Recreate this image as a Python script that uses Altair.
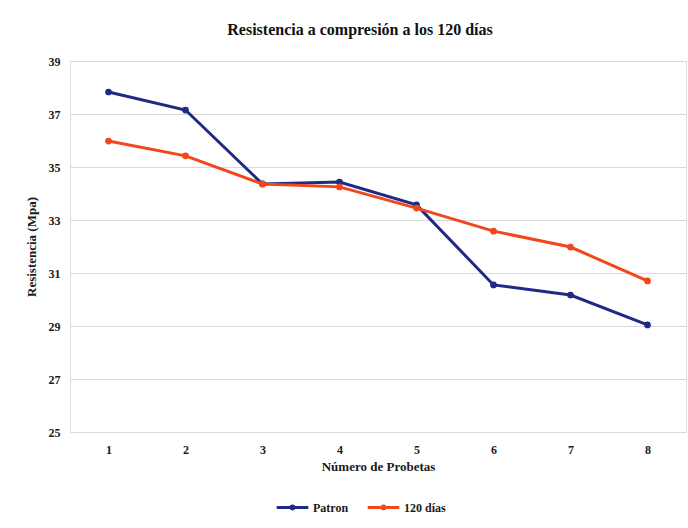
import altair as alt
import pandas as pd

# Compressive strength per specimen (MPa)
probetas = [1, 2, 3, 4, 5, 6, 7, 8]
patron = [37.83, 37.15, 34.36, 34.43, 33.57, 30.55, 30.17, 29.04]
dias_120 = [35.98, 35.42, 34.36, 34.25, 33.45, 32.58, 31.98, 30.70]
series = ["Patron", "120 días"]
colores = ["#1e2a86", "#f2471b"]
y_ticks = [25, 27, 29, 31, 33, 35, 37, 39]

rows = []
for nombre, valores in zip(series, [patron, dias_120]):
    for p, v in zip(probetas, valores):
        rows.append({"Probeta": p, "Resistencia": v, "Serie": nombre})
df = pd.DataFrame(rows)

FONT = "Liberation Serif"
TXT = "#1a1a1a"

# legend glyph: a short line with a dot in the middle
LINE_DOT = "M-1,0H1M-0.09,0a0.09,0.09 0 1,0 0.18,0a0.09,0.09 0 1,0 -0.18,0"

chart = (
    alt.Chart(df)
    .mark_line(
        strokeWidth=3,
        point=alt.OverlayMarkDef(size=45, filled=True, opacity=1),
    )
    .encode(
        x=alt.X(
            "Probeta:O",
            scale=alt.Scale(paddingInner=0, paddingOuter=0),
            axis=alt.Axis(
                title="Número de Probetas",
                labelAngle=0,
                domain=False,
                ticks=False,
                grid=False,
                labelPadding=12,
                titlePadding=5,
                labelFont=FONT,
                titleFont=FONT,
                labelFontSize=12,
                titleFontSize=13,
                labelFontWeight="bold",
                titleFontWeight="bold",
                labelColor=TXT,
                titleColor=TXT,
            ),
        ),
        y=alt.Y(
            "Resistencia:Q",
            scale=alt.Scale(domain=[25, 39], nice=False, zero=False),
            axis=alt.Axis(
                title="Resistencia (Mpa)",
                values=y_ticks,
                domain=False,
                ticks=False,
                labelPadding=10,
                titlePadding=10,
                labelFont=FONT,
                titleFont=FONT,
                labelFontSize=12,
                titleFontSize=13,
                labelFontWeight="bold",
                titleFontWeight="bold",
                labelColor=TXT,
                titleColor=TXT,
                gridColor="#d9d9d9",
                gridWidth=1,
            ),
        ),
        color=alt.Color(
            "Serie:N",
            sort=series,
            scale=alt.Scale(domain=series, range=colores),
            legend=alt.Legend(
                title=None,
                orient="none",
                direction="horizontal",
                legendX=205,
                legendY=429,
                symbolType=LINE_DOT,
                symbolStrokeWidth=3,
                symbolSize=1000,
                columnPadding=12,
                labelOffset=3,
                labelFont=FONT,
                labelFontSize=12,
                labelFontWeight="bold",
                labelColor=TXT,
            ),
        ),
        order=alt.Order("Serie:N", sort="descending"),
    )
    .properties(
        width=616,
        height=371,
        autosize=alt.AutoSizeParams(type="none"),
        padding={"left": 70, "top": 61, "right": 2, "bottom": 96},
        title=alt.TitleParams(
            "Resistencia a compresión a los 120 días",
            font=FONT,
            fontSize=16,
            fontWeight="bold",
            color="#111111",
            anchor="middle",
            dx=-18,
            offset=17,
        ),
    )
    .configure_view(stroke=None)
    .configure(background="white")
)

chart.save("out.html", embed_options={"renderer": "svg", "actions": False})
